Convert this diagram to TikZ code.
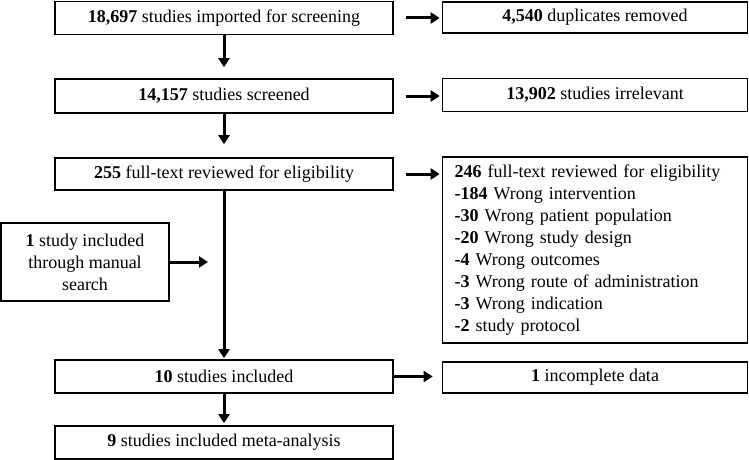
\documentclass[tikz,border=0pt]{standalone}
\usepackage{fontspec}
\setmainfont{Liberation Serif}
\usetikzlibrary{arrows.meta}
\tikzset{
  box/.style={draw, line width=1.6pt, inner sep=0pt, align=center, font=\fontsize{18}{22}\selectfont},
  arr/.style={line width=3pt, -{Triangle[width=11pt,length=9pt]}},
}
\begin{document}
\begin{tikzpicture}[x=1pt,y=-1pt]
\useasboundingbox (0,0) rectangle (749,460);
\node[box, minimum width=338, minimum height=33] (a) at (224,18) {\textbf{18,697} studies imported for screening};
\node[box, minimum width=305, minimum height=31] (ar) at (595,17.5) {\textbf{4,540} duplicates removed};
\node[box, minimum width=338, minimum height=34] (b) at (224,96) {\textbf{14,157} studies screened};
\node[box, minimum width=305, minimum height=33] (br) at (595,95) {\textbf{13,902} studies irrelevant};
\node[box, minimum width=338, minimum height=32] (c) at (224,174) {\textbf{255} full-text reviewed for eligibility};
\node[box, minimum width=305, minimum height=186, align=left, text width=281] (cr) at (595,250) {\textbf{246} full-text reviewed for eligibility\\
\textbf{-184} Wrong intervention\\
\textbf{-30} Wrong patient population\\
\textbf{-20} Wrong study design\\
\textbf{-4} Wrong outcomes\\
\textbf{-3} Wrong route of administration\\
\textbf{-3} Wrong indication\\
\textbf{-2} study protocol};
\node[box, minimum width=168, minimum height=78] (m) at (85,262) {\textbf{1} study included\\through manual\\search};
\coordinate (mt) at (208,262);
\node[box, minimum width=338, minimum height=33] (d) at (224,376.5) {\textbf{10} studies included};
\node[box, minimum width=305, minimum height=31] (dr) at (595,377.5) {\textbf{1} incomplete data};
\node[box, minimum width=338, minimum height=33] (e) at (224,442.5) {\textbf{9} studies included meta-analysis};
\draw[arr, shorten >=11pt] (a) -- (b);
\draw[arr, shorten >=13pt] (b) -- (c);
\draw[arr, shorten >=1pt] (c) -- (d);
\draw[arr, shorten >=2pt] (d) -- (e);
\draw[arr, shorten <=12pt, shorten >=2pt] (a.east) -- (a.east -| ar.west);
\draw[arr, shorten <=12pt, shorten >=2pt] (b.east) -- (b.east -| br.west);
\draw[arr, shorten <=12pt, shorten >=2pt] (c.east) -- (c.east -| cr.west);
\draw[arr, shorten >=9pt] (d.east) -- (d.east -| dr.west);
\draw[arr] (m.east) -- (mt);
\end{tikzpicture}
\end{document}
